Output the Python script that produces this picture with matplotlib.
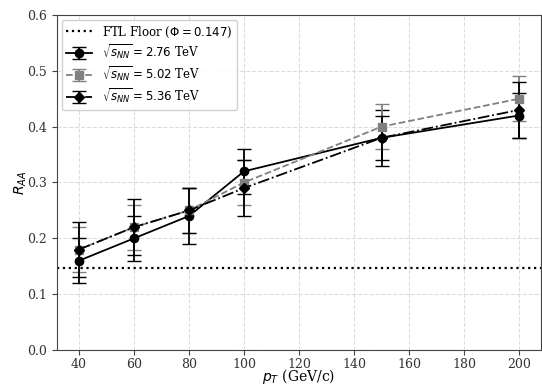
import matplotlib
matplotlib.use("Agg")
import matplotlib.pyplot as plt

pt = [40, 60, 80, 100, 150, 200]

raa_276 = [0.16, 0.20, 0.24, 0.32, 0.38, 0.42]
err_276 = [0.04, 0.04, 0.05, 0.04, 0.05, 0.04]

raa_502 = [0.18, 0.22, 0.25, 0.30, 0.40, 0.45]
err_502 = [0.04, 0.04, 0.04, 0.04, 0.04, 0.04]

raa_536 = [0.18, 0.22, 0.25, 0.29, 0.38, 0.43]
err_536 = [0.05, 0.05, 0.04, 0.05, 0.04, 0.05]

ftl_floor = 0.147

plt.rcParams["font.family"] = "DejaVu Serif"
plt.rcParams["mathtext.fontset"] = "dejavusans"

fig = plt.figure(figsize=(5.42, 3.85), dpi=100)
ax = fig.add_axes([57 / 542, 35 / 385, 484 / 542, 335 / 385])

ax.axhline(ftl_floor, color="black", linestyle=":", linewidth=1.6,
           label=r"FTL Floor ($\Phi = 0.147$)")
ax.errorbar(pt, raa_276, yerr=err_276, color="black", linestyle="-",
            marker="o", markersize=6, linewidth=1.3, capsize=5,
            label=r"$\sqrt{s_{NN}} = 2.76$ TeV")
ax.errorbar(pt, raa_502, yerr=err_502, color="gray", linestyle="--",
            marker="s", markersize=6, linewidth=1.3, capsize=5,
            label=r"$\sqrt{s_{NN}} = 5.02$ TeV")
ax.errorbar(pt, raa_536, yerr=err_536, color="black", linestyle="-.",
            marker="D", markersize=5, linewidth=1.3, capsize=5,
            label=r"$\sqrt{s_{NN}} = 5.36$ TeV")

ax.set_xlim(32, 208)
ax.set_ylim(0, 0.6)
ax.set_xticks([40, 60, 80, 100, 120, 140, 160, 180, 200])
ax.set_xlabel(r"$p_T$ (GeV/c)", fontsize=10, labelpad=-3)
ax.set_ylabel(r"$R_{AA}$", fontsize=10, labelpad=-1)
ax.grid(True, linestyle="--", color="#dddddd", linewidth=0.8)
ax.tick_params(labelsize=9, colors="#444444", labelcolor="#333333")
ax.tick_params(axis="x", pad=2.5)
for spine in ax.spines.values():
    spine.set_color("#444444")

ax.legend(loc="upper left", fontsize=8.5, framealpha=0.9, borderaxespad=0.4,
          handlelength=2.2, labelspacing=0.25)

fig.savefig("out.png", dpi=100)
